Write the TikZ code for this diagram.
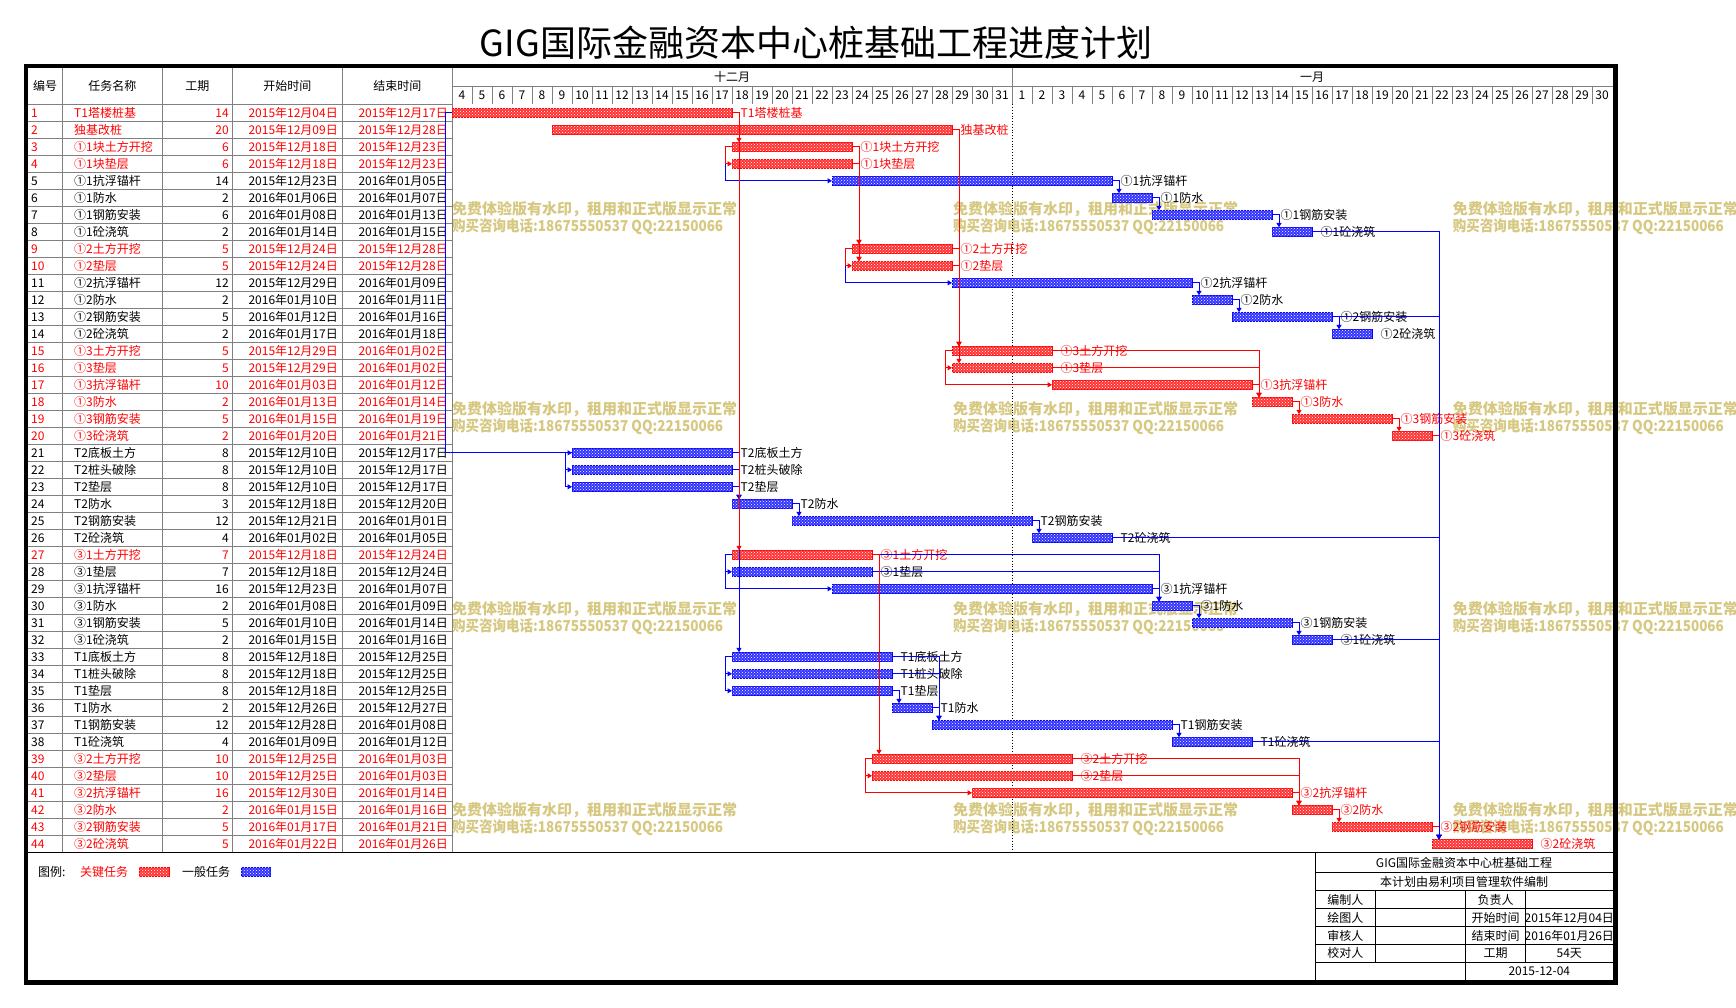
\documentclass[tikz,border=0pt]{standalone}
\usepackage{fontspec}
\setmainfont{Noto Sans CJK SC}
\usetikzlibrary{arrows.meta,patterns}
\definecolor{gridgray}{RGB}{128,128,128}
\definecolor{wmark}{RGB}{214,200,128}
\definecolor{cred}{RGB}{255,0,0}
\definecolor{cblue}{RGB}{0,0,255}
\newcommand\fsz[1]{\fontsize{#1}{#1}\selectfont}
\tikzset{
  barc/.style={draw=cred,line width=1pt,fill=cred!80!white,postaction={pattern=crosshatch dots,pattern color=white},inner sep=0pt,outer sep=0pt,minimum height=9pt},
  barn/.style={draw=cblue,line width=1pt,fill=cblue!80!white,postaction={pattern=crosshatch dots,pattern color=white},inner sep=0pt,outer sep=0pt,minimum height=9pt},
  txtc/.style={text=cred,font=\fsz{12},inner sep=0pt},
  txtn/.style={text=black,font=\fsz{12},inner sep=0pt},
  lnkc/.style={draw=cred,line width=1pt,-{Triangle[length=4.5pt,width=5pt]}},
  lnkn/.style={draw=cblue,line width=1pt,-{Triangle[length=4.5pt,width=5pt]}},
  gline/.style={draw=gridgray,line width=1pt},
  bline/.style={draw=black,line width=1pt},
  wmtxt/.style={text=wmark,font=\fsz{15}\bfseries,inner sep=0pt,anchor=base west},
}
\newcommand\gtask[8]{%
  \pgfmathsetmacro\rt{104.3+17*(#1-1)}%
  \pgfmathsetmacro\rb{\rt+12.9}%
  \pgfmathsetmacro\bt{\rt+4}%
  \pgfmathsetmacro\bx{452+20*#2}%
  \pgfmathsetmacro\bw{20*(#3-#2+1)}%
  \node[txt#4,anchor=base west] (n#1) at (31,\rb) {#1};
  \node[txt#4,anchor=base west] (m#1) at (74,\rb) {#5};
  \node[txt#4,anchor=base east] (d#1) at (229,\rb) {#6};
  \node[txt#4,anchor=base east] (s#1) at (338,\rb) {#7};
  \node[txt#4,anchor=base east] (e#1) at (448,\rb) {#8};
  \node[bar#4,minimum width=\bw pt,anchor=north west] (t#1) at (\bx,\bt) {};
  \node[txt#4,anchor=base west] (l#1) at (\bx+\bw+8.5,\rb) {#5};
}
\begin{document}
\begin{tikzpicture}[x=1pt,y=-1pt]
\useasboundingbox (0,0) rectangle (1736,1007);
\fill[white] (0,0) rectangle (1736,1007);
% title
\node[font=\fsz{36},inner sep=0pt,anchor=base] (title) at (816,56) {GIG国际金融资本中心桩基础工程进度计划};
% watermark
\foreach \wx [count=\i] in {452,953,1452.7}{
  \foreach \wy [count=\j] in {209,408.3,608.3,809.3}{
    \node[wmtxt] (wa\i\j) at (\wx,\wy+5.7) {免费体验版有水印，租用和正式版显示正常};
    \node[wmtxt] (wb\i\j) at (\wx,\wy+22.7) {\scalebox{0.9}[1]{购买咨询电话:18675550537 QQ:22150066}};
  }
}
% table grid
\foreach \k in {0,...,43}{
  \draw[gline] (27.6,104.3+17*\k) -- (452.3,104.3+17*\k);
}
\foreach \cx in {62.3,162.3,232.3,342.3,452.3}{
  \draw[gline] (\cx,68.3) -- (\cx,852.7);
}
% timeline header
\draw[gline] (452.3,86) -- (1613,86);
\draw[gline] (1012,68.3) -- (1012,86);
\foreach \k in {1,...,57}{
  \draw[gline] (452+20*\k,86) -- (452+20*\k,104.3);
}
\foreach \k in {0,...,57}{
  \pgfmathtruncatemacro\dd{\k<28 ? \k+4 : \k-27}
  \node[txtn,anchor=base] (day\k) at (462+20*\k,99.6) {\dd};
}
\node[txtn,anchor=base] (monA) at (732,81.5) {十二月};
\node[txtn,anchor=base] (monB) at (1312,81.5) {一月};
\draw[black,line width=0.8pt,dotted] (1012,104.3) -- (1012,852.7);
% table header
\node[txtn,anchor=base] (h1) at (45,90.7) {编号};
\node[txtn,anchor=base] (h2) at (112.3,90.7) {任务名称};
\node[txtn,anchor=base] (h3) at (197.3,90.7) {工期};
\node[txtn,anchor=base] (h4) at (287.3,90.7) {开始时间};
\node[txtn,anchor=base] (h5) at (397.3,90.7) {结束时间};
% tasks
\gtask{1}{0}{13}{c}{T1塔楼桩基}{14}{2015年12月04日}{2015年12月17日}
\gtask{2}{5}{24}{c}{独基改桩}{20}{2015年12月09日}{2015年12月28日}
\gtask{3}{14}{19}{c}{①1块土方开挖}{6}{2015年12月18日}{2015年12月23日}
\gtask{4}{14}{19}{c}{①1块垫层}{6}{2015年12月18日}{2015年12月23日}
\gtask{5}{19}{32}{n}{①1抗浮锚杆}{14}{2015年12月23日}{2016年01月05日}
\gtask{6}{33}{34}{n}{①1防水}{2}{2016年01月06日}{2016年01月07日}
\gtask{7}{35}{40}{n}{①1钢筋安装}{6}{2016年01月08日}{2016年01月13日}
\gtask{8}{41}{42}{n}{①1砼浇筑}{2}{2016年01月14日}{2016年01月15日}
\gtask{9}{20}{24}{c}{①2土方开挖}{5}{2015年12月24日}{2015年12月28日}
\gtask{10}{20}{24}{c}{①2垫层}{5}{2015年12月24日}{2015年12月28日}
\gtask{11}{25}{36}{n}{①2抗浮锚杆}{12}{2015年12月29日}{2016年01月09日}
\gtask{12}{37}{38}{n}{①2防水}{2}{2016年01月10日}{2016年01月11日}
\gtask{13}{39}{43}{n}{①2钢筋安装}{5}{2016年01月12日}{2016年01月16日}
\gtask{14}{44}{45}{n}{①2砼浇筑}{2}{2016年01月17日}{2016年01月18日}
\gtask{15}{25}{29}{c}{①3土方开挖}{5}{2015年12月29日}{2016年01月02日}
\gtask{16}{25}{29}{c}{①3垫层}{5}{2015年12月29日}{2016年01月02日}
\gtask{17}{30}{39}{c}{①3抗浮锚杆}{10}{2016年01月03日}{2016年01月12日}
\gtask{18}{40}{41}{c}{①3防水}{2}{2016年01月13日}{2016年01月14日}
\gtask{19}{42}{46}{c}{①3钢筋安装}{5}{2016年01月15日}{2016年01月19日}
\gtask{20}{47}{48}{c}{①3砼浇筑}{2}{2016年01月20日}{2016年01月21日}
\gtask{21}{6}{13}{n}{T2底板土方}{8}{2015年12月10日}{2015年12月17日}
\gtask{22}{6}{13}{n}{T2桩头破除}{8}{2015年12月10日}{2015年12月17日}
\gtask{23}{6}{13}{n}{T2垫层}{8}{2015年12月10日}{2015年12月17日}
\gtask{24}{14}{16}{n}{T2防水}{3}{2015年12月18日}{2015年12月20日}
\gtask{25}{17}{28}{n}{T2钢筋安装}{12}{2015年12月21日}{2016年01月01日}
\gtask{26}{29}{32}{n}{T2砼浇筑}{4}{2016年01月02日}{2016年01月05日}
\gtask{27}{14}{20}{c}{③1土方开挖}{7}{2015年12月18日}{2015年12月24日}
\gtask{28}{14}{20}{n}{③1垫层}{7}{2015年12月18日}{2015年12月24日}
\gtask{29}{19}{34}{n}{③1抗浮锚杆}{16}{2015年12月23日}{2016年01月07日}
\gtask{30}{35}{36}{n}{③1防水}{2}{2016年01月08日}{2016年01月09日}
\gtask{31}{37}{41}{n}{③1钢筋安装}{5}{2016年01月10日}{2016年01月14日}
\gtask{32}{42}{43}{n}{③1砼浇筑}{2}{2016年01月15日}{2016年01月16日}
\gtask{33}{14}{21}{n}{T1底板土方}{8}{2015年12月18日}{2015年12月25日}
\gtask{34}{14}{21}{n}{T1桩头破除}{8}{2015年12月18日}{2015年12月25日}
\gtask{35}{14}{21}{n}{T1垫层}{8}{2015年12月18日}{2015年12月25日}
\gtask{36}{22}{23}{n}{T1防水}{2}{2015年12月26日}{2015年12月27日}
\gtask{37}{24}{35}{n}{T1钢筋安装}{12}{2015年12月28日}{2016年01月08日}
\gtask{38}{36}{39}{n}{T1砼浇筑}{4}{2016年01月09日}{2016年01月12日}
\gtask{39}{21}{30}{c}{③2土方开挖}{10}{2015年12月25日}{2016年01月03日}
\gtask{40}{21}{30}{c}{③2垫层}{10}{2015年12月25日}{2016年01月03日}
\gtask{41}{26}{41}{c}{③2抗浮锚杆}{16}{2015年12月30日}{2016年01月14日}
\gtask{42}{42}{43}{c}{③2防水}{2}{2016年01月15日}{2016年01月16日}
\gtask{43}{44}{48}{c}{③2钢筋安装}{5}{2016年01月17日}{2016年01月21日}
\gtask{44}{49}{53}{c}{③2砼浇筑}{5}{2016年01月22日}{2016年01月26日}
% links: general (blue) first
\foreach \p/\s in {5/6,6/7,7/8,11/12,12/13,13/14,21/24,22/24,23/24,24/25,25/26,27/30,28/30,29/30,30/31,31/32,33/37,34/37,35/36,36/37,37/38,1/33}
  \draw[lnkn] (t\p.east) -| ([xshift=7pt]t\s.north west);
\foreach \p/\s in {1/21,21/22,21/23,3/5,9/11,27/28,27/29,33/34,33/35}
  \draw[lnkn] (t\p.west) -- ++(-6.5pt,0pt) |- (t\s.west);
% critical (red) links
\foreach \p/\s in {1/3,1/27,2/15,2/16,9/15,10/15,3/9,3/10,4/9,4/10,15/18,16/18,17/18,18/19,19/20,27/39,39/42,40/42,41/42,42/43,20/44,43/44}
  \draw[lnkc] (t\p.east) -| ([xshift=7pt]t\s.north west);
\foreach \p/\s in {3/4,9/10,15/16,15/17,39/40,39/41}
  \draw[lnkc] (t\p.west) -- ++(-6.5pt,0pt) |- (t\s.west);
% general links into the last task
\foreach \p in {8,13,26,32,38}
  \draw[lnkn] (t\p.east) -| ([xshift=7pt]t44.north west);
% bottom line of table
\draw[bline] (27.6,852.7) -- (1613,852.7);
% legend
\node[txtn,anchor=base west] (lg0) at (38,876.3) {图例:};
\node[txtc,anchor=base west] (lg1) at (80,876.3) {关键任务};
\node[barc,minimum width=29.7pt,minimum height=9.4pt,anchor=north west] (lgc) at (139.3,867.3) {};
\node[txtn,anchor=base west] (lg2) at (182,876.3) {一般任务};
\node[barn,minimum width=29.7pt,minimum height=9.4pt,anchor=north west] (lgn) at (241,867.3) {};
% title block
\draw[bline] (1315,852.7) -- (1315,982);
\foreach \hy in {872.3,890.7,908.3,926.7,944.3,962}{
  \draw[bline] (1315,\hy) -- (1613,\hy);
}
\draw[bline] (1375.7,890.7) -- (1375.7,962);
\draw[bline] (1465.7,890.7) -- (1465.7,982);
\draw[bline] (1525.7,890.7) -- (1525.7,962);
\node[txtn,anchor=base] (tb1) at (1464,867) {GIG国际金融资本中心桩基础工程};
\node[txtn,anchor=base] (tb2) at (1464,886) {本计划由易利项目管理软件编制};
\node[txtn,anchor=base] (tb3) at (1345.3,904) {编制人};
\node[txtn,anchor=base] (tb4) at (1345.3,922) {绘图人};
\node[txtn,anchor=base] (tb5) at (1345.3,940) {审核人};
\node[txtn,anchor=base] (tb6) at (1345.3,957.6) {校对人};
\node[txtn,anchor=base] (tb7) at (1495.7,904) {负责人};
\node[txtn,anchor=base] (tb8) at (1495.7,922) {开始时间};
\node[txtn,anchor=base] (tb9) at (1495.7,940) {结束时间};
\node[txtn,anchor=base] (tb10) at (1495.7,957.6) {工期};
\node[txtn,anchor=base] (tb11) at (1569.3,922) {2015年12月04日};
\node[txtn,anchor=base] (tb12) at (1569.3,940) {2016年01月26日};
\node[txtn,anchor=base] (tb13) at (1569.3,957.6) {54天};
\node[txtn,anchor=base] (tb14) at (1539.3,975.5) {2015-12-04};
% outer frame
\draw[black,line width=4.4pt] (25.8,66.1) rectangle (1615.6,982.6);
\end{tikzpicture}
\end{document}
